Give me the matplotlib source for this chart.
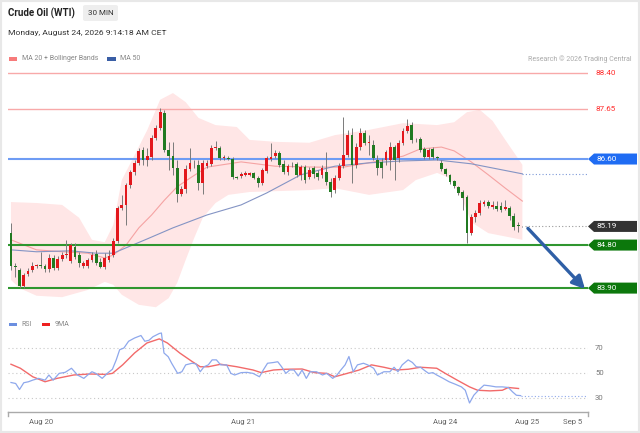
import matplotlib
matplotlib.use('Agg')
import matplotlib.pyplot as plt
import numpy as np
from matplotlib.patches import Polygon, Rectangle, FancyBboxPatch
import matplotlib.transforms as mtrans

# ---------------- data ----------------
opens = [85.05, 84.36, 84.28, 83.94, 84.20, 84.28, 84.36, 84.37, 84.36, 84.30,
         84.53, 84.32, 84.51, 84.59, 84.47, 84.76, 84.59, 84.36, 84.36, 84.49,
         84.61, 84.45, 84.34, 84.49, 84.59, 84.89, 85.58, 85.64, 86.06, 86.33,
         86.52, 86.79, 86.58, 86.64, 87.04, 87.25, 87.56, 86.79, 86.66, 86.41,
         85.87, 85.97, 86.39, 86.50, 86.48, 86.10, 86.45, 86.50, 86.83, 86.83,
         86.62, 86.62, 86.60, 86.22, 86.25, 86.27, 86.27, 86.31, 86.20, 86.10,
         86.35, 86.60, 86.66, 86.73, 86.50, 86.33, 86.50, 86.50, 86.27, 86.43,
         86.22, 86.41, 86.31, 86.27, 86.33, 86.12, 85.95, 86.20, 86.45, 86.68,
         87.10, 86.48, 86.85, 87.14, 86.94, 86.89, 86.58, 86.54, 86.58, 86.58,
         86.85, 86.62, 86.94, 87.19, 87.31, 87.00, 87.02, 86.81, 86.64, 86.81,
         86.64, 86.52, 86.39, 86.27, 86.14, 86.02, 85.91, 85.81, 85.05, 85.39,
         85.47, 85.66, 85.70, 85.60, 85.62, 85.62, 85.55, 85.58, 85.41, 85.22,
         85.19]
closes = [84.36, 84.34, 83.94, 84.17, 84.26, 84.36, 84.37, 84.36, 84.30, 84.53,
          84.32, 84.51, 84.59, 84.60, 84.80, 84.55, 84.43, 84.43, 84.49, 84.59,
          84.43, 84.34, 84.53, 84.57, 84.89, 85.58, 85.64, 86.06, 86.33, 86.52,
          86.77, 86.58, 86.66, 87.04, 87.25, 87.58, 86.79, 86.66, 86.41, 85.87,
          85.97, 86.39, 86.52, 86.49, 86.10, 86.52, 86.52, 86.83, 86.85, 86.62,
          86.64, 86.61, 86.22, 86.20, 86.29, 86.31, 86.31, 86.20, 86.10, 86.37,
          86.62, 86.64, 86.73, 86.48, 86.33, 86.45, 86.49, 86.27, 86.43, 86.16,
          86.37, 86.29, 86.22, 86.41, 86.12, 85.91, 86.20, 86.45, 86.68, 87.10,
          86.48, 86.85, 87.14, 86.94, 86.96, 86.62, 86.41, 86.41, 86.75, 86.85,
          86.58, 86.94, 87.19, 87.29, 87.00, 86.99, 86.79, 86.64, 86.79, 86.64,
          86.62, 86.39, 86.29, 86.12, 86.04, 85.89, 85.78, 85.05, 85.39, 85.47,
          85.68, 85.70, 85.62, 85.64, 85.55, 85.53, 85.60, 85.41, 85.18, 85.19,
          85.19]
highs = [85.26, 84.43, 84.32, 84.22, 84.32, 84.45, 84.40, 84.66, 84.40, 84.61,
         84.59, 84.57, 84.66, 84.91, 84.84, 84.84, 84.66, 84.47, 84.53, 84.66,
         84.70, 84.53, 84.63, 84.70, 84.95, 85.62, 85.85, 86.10, 86.37, 86.58,
         86.83, 86.85, 86.83, 87.10, 87.31, 87.67, 87.63, 86.96, 86.96, 86.58,
         86.04, 86.48, 86.83, 86.58, 86.58, 86.58, 86.58, 86.89, 86.98, 86.87,
         86.68, 86.66, 86.64, 86.25, 86.33, 86.35, 86.33, 86.33, 86.25, 86.41,
         86.66, 86.94, 86.79, 86.77, 86.58, 86.50, 86.54, 86.54, 86.48, 86.48,
         86.43, 86.45, 86.37, 86.48, 86.75, 86.20, 86.27, 86.52, 87.48, 87.21,
         87.25, 86.94, 87.25, 87.21, 87.10, 87.00, 86.68, 86.62, 86.79, 86.96,
         86.89, 87.00, 87.25, 87.44, 87.38, 87.04, 87.06, 86.85, 86.83, 86.85,
         86.66, 86.58, 86.41, 86.29, 86.16, 86.04, 85.95, 85.85, 85.45, 85.53,
         85.74, 85.74, 85.74, 85.72, 85.72, 85.70, 85.74, 85.62, 85.47, 85.28,
         85.20]
lows = [84.28, 84.13, 83.90, 83.90, 84.15, 84.24, 84.32, 84.32, 84.24, 84.24,
        84.28, 84.28, 84.47, 84.53, 84.43, 84.51, 84.34, 84.32, 84.32, 84.45,
        84.38, 84.32, 84.30, 84.45, 84.55, 84.84, 85.53, 85.22, 85.99, 86.27,
        86.48, 86.48, 86.45, 86.58, 87.00, 87.21, 86.75, 86.37, 86.27, 85.70,
        85.83, 85.89, 86.35, 86.41, 85.95, 85.87, 86.41, 86.45, 86.79, 86.58,
        86.58, 86.58, 86.18, 86.18, 86.20, 86.25, 86.25, 86.18, 86.02, 86.06,
        86.31, 86.56, 86.62, 86.43, 86.29, 86.27, 86.43, 86.22, 86.16, 86.10,
        86.18, 86.20, 86.16, 86.20, 86.06, 85.81, 85.89, 86.16, 86.41, 86.64,
        86.10, 86.41, 86.79, 86.89, 86.68, 86.58, 86.27, 86.20, 86.48, 86.37,
        86.16, 86.54, 86.89, 87.14, 86.94, 86.96, 86.75, 86.60, 86.60, 86.60,
        86.58, 86.35, 86.25, 86.08, 85.99, 85.85, 85.53, 84.84, 85.01, 85.28,
        85.43, 85.62, 85.58, 85.55, 85.51, 85.49, 85.53, 85.33, 85.11, 85.07,
        85.17]

bb_up_idx = [0, 6, 12, 16, 19, 22, 24, 26, 29, 32, 35, 38, 41, 44, 48, 53, 56, 62, 70,
             76, 84, 92, 100, 104, 107, 110, 113, 116, 120]
bb_up = [85.70, 85.68, 85.64, 85.37, 84.91, 84.86, 85.22, 86.16, 86.68, 87.21, 87.84,
         87.98, 87.79, 87.46, 87.31, 87.27, 87.00, 86.96, 86.94, 87.10, 87.21, 87.35,
         87.31, 87.37, 87.58, 87.63, 87.40, 87.00, 86.48]
bb_lo_idx = [0, 2, 6, 12, 18, 22, 24, 26, 30, 34, 37, 39, 41, 43, 45, 48, 51, 56, 70,
             76, 84, 92, 95, 100, 103, 106, 108, 112, 120]
bb_lo = [84.07, 83.90, 83.74, 83.71, 83.86, 84.03, 83.97, 83.76, 83.55, 83.50, 83.69,
         84.01, 84.49, 84.95, 85.37, 85.68, 85.85, 85.91, 85.95, 85.99, 85.85, 85.95,
         86.16, 86.31, 86.20, 85.74, 85.28, 85.05, 84.91]
ma20_idx = [0, 6, 12, 18, 22, 24, 27, 30, 33, 36, 39, 42, 46, 54, 62, 72, 78, 84, 92,
            96, 101, 104, 108, 112, 116, 120]
ma20 = [84.91, 84.70, 84.66, 84.63, 84.53, 84.59, 84.80, 85.16, 85.43, 85.74, 86.02,
        86.20, 86.43, 86.54, 86.45, 86.43, 86.43, 86.52, 86.66, 86.81, 86.85, 86.77,
        86.54, 86.27, 85.99, 85.72]
ma50_idx = [0, 6, 14, 20, 24, 28, 32, 38, 46, 54, 60, 68, 76, 84, 92, 100, 108, 120]
ma50 = [84.70, 84.66, 84.68, 84.63, 84.63, 84.78, 84.93, 85.16, 85.43, 85.64, 85.89,
        86.27, 86.45, 86.52, 86.56, 86.58, 86.50, 86.29]

rsi_pos = [0, 1.1, 2.0, 3.0, 4.1, 5.1, 6.5, 8.0, 8.9, 9.9,
           11.3, 12.7, 14.2, 15.6, 17.1, 18.0, 19.0, 19.9, 21.4, 22.8,
           23.8, 24.7, 25.5, 26.5, 27.6, 29.0, 30.5, 31.4, 32.4, 33.3,
           34.8, 35.3, 35.9, 36.9, 37.7, 39.1, 40.1, 41.0, 42.5, 43.4,
           44.4, 45.3, 46.3, 47.2, 48.2, 49.2, 50.6, 51.6, 52.5, 54.0,
           55.4, 56.8, 58.3, 59.2, 60.2, 61.6, 62.6, 63.5, 64.5, 65.4,
           66.4, 67.4, 68.3, 69.3, 70.2, 71.7, 73.1, 74.1, 75.5, 76.5,
           77.4, 78.4, 79.3, 80.3, 81.3, 82.7, 83.7, 85.1, 86.0, 87.5,
           88.9, 89.9, 90.8, 91.8, 93.2, 94.2, 95.1, 96.1, 97.1, 98.0,
           99.0, 99.9, 101.4, 102.8, 104.2, 105.7, 106.6, 107.6, 108.6, 109.7,
           111.0, 112.4, 113.8, 115.3, 116.7, 117.7, 118.6, 119.6]
rsi_val = [42.4, 41.6, 36.8, 42.2, 43.0, 44.3, 45.7, 44.3, 48.4, 44.3,
           49.7, 50.5, 53.8, 48.4, 45.7, 48.4, 51.0, 49.7, 45.7, 50.3,
           53.0, 60.5, 68.6, 70.0, 75.4, 78.0, 80.0, 75.4, 76.2, 79.0,
           81.6, 82.0, 66.0, 63.0, 57.8, 49.7, 51.0, 56.5, 57.8, 57.3,
           51.0, 55.0, 56.5, 60.5, 60.5, 56.5, 56.5, 49.7, 48.4, 50.3,
           50.5, 49.7, 47.0, 52.4, 57.8, 58.4, 59.0, 55.0, 49.7, 52.4,
           52.4, 47.6, 52.4, 45.7, 51.0, 51.0, 48.4, 49.7, 45.7, 48.4,
           52.4, 56.5, 63.2, 51.0, 56.5, 57.8, 56.5, 53.8, 48.4, 51.0,
           51.0, 54.6, 51.0, 56.5, 60.5, 58.4, 55.0, 54.6, 51.9, 49.7,
           50.3, 48.4, 45.7, 43.0, 41.1, 38.9, 36.2, 26.0, 32.2, 36.2,
           40.3, 39.7, 38.9, 38.9, 38.4, 34.9, 32.2, 31.9]
ma9_pos = [0, 2.2, 5.1, 8.0, 10.8, 14.7, 18.5, 22.3, 23.8, 26.2,
           29.0, 31.9, 34.8, 36.7, 39.6, 42.5, 44.4, 46.3, 49.2, 53.0,
           56.8, 58.7, 61.6, 64.5, 68.3, 71.2, 74.1, 76.0, 78.9, 81.7,
           84.6, 87.5, 90.4, 93.2, 96.1, 99.9, 101.9, 104.7, 107.6, 109.5,
           112.4, 115.3, 116.7, 119.1]
ma9_val = [57.0, 53.8, 47.0, 43.0, 45.7, 48.4, 49.2, 48.9, 49.7, 56.5,
           66.0, 74.0, 77.3, 74.0, 66.0, 59.2, 55.0, 55.0, 57.0, 55.0,
           52.4, 50.3, 52.4, 53.0, 53.2, 50.3, 49.7, 47.0, 49.7, 52.4,
           56.5, 54.6, 52.4, 53.0, 54.6, 53.8, 49.7, 44.3, 38.9, 36.2,
           35.7, 36.2, 38.4, 37.6]

resistance_levels = [88.40, 87.65]
pivot_level = 86.60
last_price = 85.19
support_levels = [84.80, 83.90]
arrow_from = (121.3, 85.15)
arrow_to = (134.7, 83.88)
tick_pos = [7.0, 54.5, 101.9, 121.1, 131.7]
tick_labels = ['Aug 20', 'Aug 21', 'Aug 24', 'Aug 25', 'Sep 5']
rsi_grid = [70, 50, 30]

# ---------------- figure ----------------
plt.rcParams['font.family'] = ['Roboto', 'DejaVu Sans']
W, H = 640, 433
fig = plt.figure(figsize=(6.4, 4.33), dpi=100)
fig.patch.set_facecolor('white')


def fx(px):
    return px / W


def fy(py):
    return 1 - py / H


XMIN, XMAX = -0.7, 135.4
ax = fig.add_axes([fx(8), fy(312), fx(588) - fx(8), fy(66) - fy(312)])
ax.set_facecolor('white')
for s in ax.spines.values():
    s.set_visible(False)
ax.set_xticks([])
ax.set_yticks([])

# Bollinger band area
ax.fill(np.r_[bb_up_idx, bb_lo_idx[::-1]], np.r_[bb_up, bb_lo[::-1]],
        color='#ffe6e6', lw=0, zorder=1)
ax.plot(ma20_idx, ma20, color='#f5a3a3', lw=0.8, zorder=2)
ax.plot(ma50_idx, ma50, color='#8494c4', lw=0.8, zorder=2)
ax.plot([ma50_idx[-1], XMAX], [ma50[-1], ma50[-1]], color='#7f9ad8', lw=0.8,
        ls=(0, (1, 2)), zorder=2)

# levels
for lv in resistance_levels:
    ax.axhline(lv, color='#f8a9a9', lw=1.0, zorder=2)
ax.axhline(pivot_level, color='#6e9cf4', lw=1.5, zorder=2)
for lv in support_levels:
    ax.axhline(lv, color='#2f962f', lw=1.5, zorder=2)
ax.plot([len(closes) - 0.3, XMAX], [last_price, last_price], color='#9a9a9a',
        lw=0.8, ls=(0, (1, 2)), zorder=2)

# candles
o = np.array(opens)
c = np.array(closes)
idx = np.arange(len(o))
up = c >= o
ax.vlines(idx, lows, highs, color='#7a7a7a', lw=0.7, zorder=3)
body_b = np.minimum(o, c)
body_h = np.maximum(np.abs(c - o), 0.014)
ax.bar(idx, body_h, bottom=body_b, width=0.66,
       color=np.where(up, '#e3171c', '#217a21'), lw=0, zorder=4)

# arrow
ax.annotate('', xy=arrow_to, xytext=arrow_from,
            arrowprops=dict(arrowstyle='-|>,head_length=0.75,head_width=0.38',
                            color='#2f5fa6', lw=2.4, shrinkA=0, shrinkB=0),
            annotation_clip=False, zorder=6)

ax.set_xlim(XMIN, XMAX)
ax.set_ylim(83.40, 88.546)

# price tags
bt = mtrans.blended_transform_factory(fig.transFigure, ax.transData)
half = 5.5 * (88.546 - 83.40) / 246
for lv in resistance_levels:
    ax.text(fx(595), lv, f'{lv:.2f}', transform=bt, color='#ff2b2b', fontsize=5.8,
            va='center', ha='left', clip_on=False)
tags = [(pivot_level, '#1f6cf3'), (last_price, '#333333'),
        (support_levels[0], '#0c780c'), (support_levels[1], '#0c780c')]
for lv, col in tags:
    poly = Polygon([[fx(588), lv], [fx(594), lv + half], [fx(637), lv + half],
                    [fx(637), lv - half], [fx(594), lv - half]], closed=True,
                   transform=bt, facecolor=col, edgecolor='none', clip_on=False,
                   zorder=7)
    ax.add_patch(poly)
    ax.text(fx(596.5), lv, f'{lv:.2f}', transform=bt, color='white', fontsize=5.8,
            va='center', ha='left', clip_on=False, zorder=8)
ax.set_xlim(XMIN, XMAX)
ax.set_ylim(83.40, 88.546)

# ---------------- RSI panel ----------------
ax2 = fig.add_axes([fx(8), fy(412), fx(588) - fx(8), fy(328) - fy(412)])
ax2.set_xlim(XMIN, XMAX)
ax2.set_ylim(18.8, 86)
for s in ['top', 'right', 'left']:
    ax2.spines[s].set_visible(False)
ax2.spines['bottom'].set_color('#aaaaaa')
ax2.spines['bottom'].set_linewidth(1.0)
for g in rsi_grid:
    ax2.axhline(g, color='#c8c8c8', lw=0.8, ls=(0, (1, 2.5)), zorder=1)
ax2.plot(rsi_pos, rsi_val, color='#8ea8ec', lw=0.9, zorder=3)
ax2.plot(ma9_pos, ma9_val, color='#f26a6a', lw=1.0, zorder=2)
ax2.plot([rsi_pos[-1], XMAX], [rsi_val[-1], rsi_val[-1]], color='#8ea8ec', lw=0.8,
         ls=(0, (1, 2)), zorder=2)
ax2.set_yticks([])
ax2.set_xticks(tick_pos)
ax2.set_xticklabels(tick_labels, fontsize=5.6, color='#666666')
ax2.tick_params(axis='x', length=0, pad=5)
for xe in (0, 1):
    ax2.plot([xe, xe], [0, -0.05], transform=ax2.transAxes, color='#aaaaaa',
             lw=1.0, clip_on=False)
bt2 = mtrans.blended_transform_factory(fig.transFigure, ax2.transData)
for g in rsi_grid:
    ax2.text(fx(595), g, str(g), transform=bt2, color='#777777', fontsize=5.6,
             va='center', ha='left', clip_on=False)

# ---------------- header & legends ----------------
fig.text(fx(8), fy(13), 'Crude Oil (WTI)', fontsize=7, fontweight='bold',
         color='#222222', va='center', ha='left')
fig.add_artist(FancyBboxPatch((fx(83), fy(21)), fx(118) - fx(83), fy(5) - fy(21),
                              boxstyle='round,pad=0,rounding_size=0.004',
                              transform=fig.transFigure, fc='#eeeeee', ec='none'))
fig.text(fx(100.5), fy(13), '30 MIN', fontsize=5.8, color='#333333',
         ha='center', va='center')
fig.text(fx(8.5), fy(33), 'Monday, August 24, 2026 9:14:18 AM CET', fontsize=6.1,
         color='#333333', va='center', ha='left')

fig.add_artist(Rectangle((fx(9), fy(60.5)), fx(8), 3 / H, transform=fig.transFigure,
                         fc='#f77b7b', ec='none'))
fig.text(fx(22.5), fy(59), 'MA 20 + Bollinger Bands', fontsize=5, color='#888888',
         va='center', ha='left')
fig.add_artist(Rectangle((fx(107), fy(60.5)), fx(9), 3 / H, transform=fig.transFigure,
                         fc='#3a5ea5', ec='none'))
fig.text(fx(120.5), fy(59), 'MA 50', fontsize=5, color='#888888', va='center', ha='left')
fig.text(fx(632), fy(59), 'Research \u00a9 2026 Trading Central', fontsize=5,
         color='#aaaaaa', va='center', ha='right')

fig.add_artist(Rectangle((fx(9), fy(325.5)), fx(8), 3 / H, transform=fig.transFigure,
                         fc='#6b8fe0', ec='none'))
fig.text(fx(21.5), fy(324), 'RSI', fontsize=5, color='#888888', va='center', ha='left')
fig.add_artist(Rectangle((fx(42), fy(325.5)), fx(8), 3 / H, transform=fig.transFigure,
                         fc='#ee2020', ec='none'))
fig.text(fx(54.5), fy(324), '9MA', fontsize=5, color='#888888', va='center', ha='left')

fig.add_artist(Rectangle((0, 0), 1, 1, transform=fig.transFigure, fill=False,
                         ec='#e8e8e8', lw=3))

fig.savefig('out.png', dpi=100, facecolor='white')
